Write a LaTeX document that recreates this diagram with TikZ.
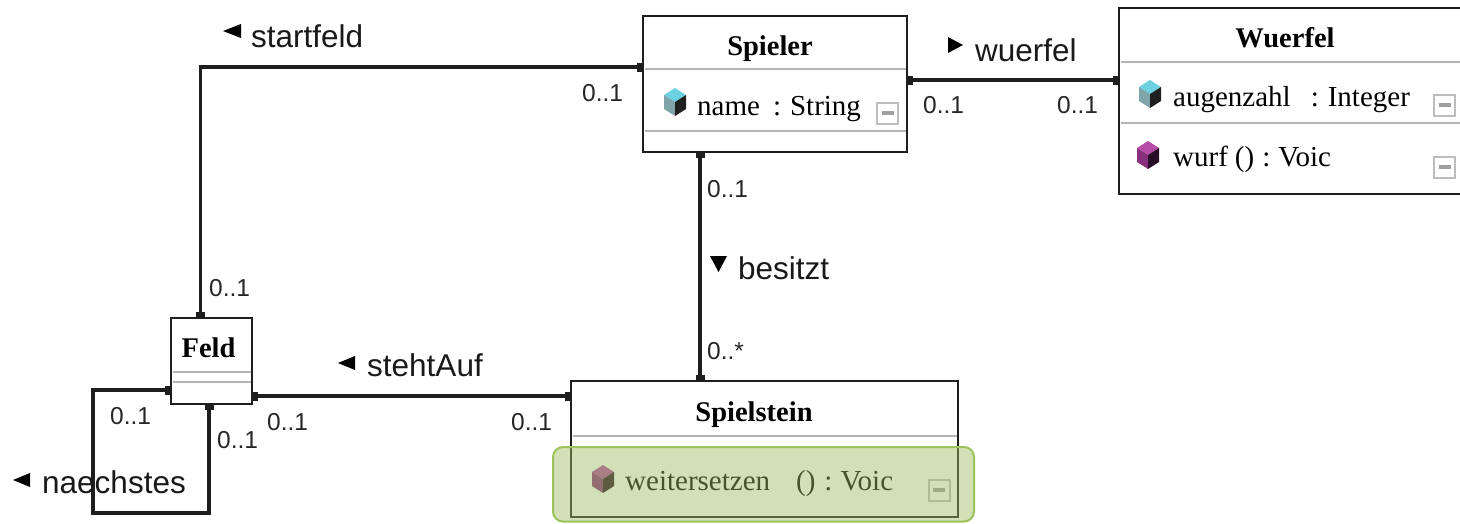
\documentclass[tikz,border=0pt]{standalone}
\usepackage{fontspec}
\setmainfont{Liberation Serif}
\newfontfamily\arialf{Liberation Sans}
\usetikzlibrary{arrows.meta,calc}
\definecolor{linecol}{HTML}{1E1E1E}
\definecolor{sepgray}{HTML}{B4B4B4}
\definecolor{greenfill}{RGB}{157,187,97}
\definecolor{greenborder}{HTML}{9CC25C}
\definecolor{cyantop}{HTML}{6CD2E2}
\definecolor{cyanleft}{HTML}{7FA4AA}
\definecolor{cyanright}{HTML}{202020}
\definecolor{purtop}{HTML}{B64CA6}
\definecolor{purleft}{HTML}{8A2F7E}
\definecolor{purright}{HTML}{2A0E28}
\definecolor{mgrey}{HTML}{BDBDBD}
\definecolor{mbar}{HTML}{A0A0A0}
\tikzset{
  classbox/.style={draw=linecol, line width=2.5pt, fill=white, inner sep=0pt, outer sep=0pt},
  sep/.style={draw=sepgray, line width=2pt},
  assoc/.style={draw=linecol, line width=3.3pt, arrows={Square[length=6pt,width=9pt]-Square[length=6pt,width=9pt]}},
  title/.style={font=\fontsize{28.5}{34}\selectfont\bfseries, anchor=base, inner sep=0pt},
  member/.style={font=\fontsize{29}{34}\selectfont, anchor=base west, inner sep=0pt},
  mult/.style={font=\arialf\fontsize{24.5}{29}\selectfont, anchor=base west, inner sep=0pt, text=black!85},
  role/.style={font=\arialf\fontsize{31.5}{37}\selectfont, anchor=base west, inner sep=0pt, text=black!90},
  pics/gem/.style n args={3}{code={
    \fill[#1] (0,-14) -- (11,-7) -- (0,0) -- (-11,-7) -- cycle;
    \fill[#2] (-11,-7) -- (0,0) -- (0,14) -- (-11,7) -- cycle;
    \fill[#3] (0,0) -- (11,-7) -- (11,7) -- (0,14) -- cycle;
  }},
  pics/minusbox/.style={code={
    \draw[line width=2pt, draw=mgrey, fill=white] (-10.5,-10.5) rectangle (10.5,10.5);
    \fill[mbar] (-6,-2) rectangle (6,2);
  }}
}
\begin{document}
\begin{tikzpicture}[x=1pt,y=-1pt]
\useasboundingbox (0,0) rectangle (1460,523);

% class boxes
\node[classbox, minimum width=264pt, minimum height=136pt] (spieler) at (775,84) {};
\node[classbox, minimum width=351pt, minimum height=186pt] (wuerfel) at (1294.5,101) {};
\node[classbox, minimum width=81pt, minimum height=86pt] (feld) at (211.5,361) {};
\node[classbox, minimum width=387pt, minimum height=136pt] (spielstein) at (764.5,449) {};

% compartment separators
\draw[sep] ($(spieler.north west)+(1.5,53)$) -- ($(spieler.north east)+(-1.5,53)$);
\draw[sep] ($(spieler.north west)+(1.5,115)$) -- ($(spieler.north east)+(-1.5,115)$);
\draw[sep] ($(wuerfel.north west)+(1.5,54)$) -- ($(wuerfel.north east)+(-1.5,54)$);
\draw[sep] ($(wuerfel.north west)+(1.5,115)$) -- ($(wuerfel.north east)+(-1.5,115)$);
\draw[sep] ($(feld.north west)+(1.5,54)$) -- ($(feld.north east)+(-1.5,54)$);
\draw[sep] ($(feld.north west)+(1.5,64)$) -- ($(feld.north east)+(-1.5,64)$);
\draw[sep] ($(spielstein.north west)+(1.5,55)$) -- ($(spielstein.north east)+(-1.5,55)$);

% titles
\node[title] (tspieler) at (770,55) {Spieler};
\node[title] (twuerfel) at (1285,47) {Wuerfel};
\node[title] (tfeld) at (208.5,357) {Feld};
\node[title] (tspielstein) at (754,421) {Spielstein};

% members
\pic at (675,102) {gem={cyantop}{cyanleft}{cyanright}};
\node[member] (aname) at (697,115) {name\hspace{13pt}:\hspace{9pt}String};
\pic at (887.5,113) {minusbox};

\pic at (1150,94) {gem={cyantop}{cyanleft}{cyanright}};
\node[member] (aaugen) at (1173,106) {augenzahl\hspace{20pt}:\hspace{9pt}Integer};
\pic at (1444.5,105) {minusbox};
\pic at (1148,155) {gem={purtop}{purleft}{purright}};
\node[member] (owurf) at (1173,166) {wurf\hspace{7pt}()\hspace{8pt}:\hspace{8pt}Voic};
\pic at (1444.5,167) {minusbox};

\pic at (603,479) {gem={purtop}{purleft}{purright}};
\node[member] (oweiter) at (625,490) {weitersetzen\hspace{26pt}()\hspace{9pt}:\hspace{8pt}Voic};
\pic at (939,490) {minusbox};

% associations
\coordinate (sfA) at ($(spieler.north west)+(0,51)$);
\coordinate (sfB) at ($(feld.north west)+(29.5,0)$);
\draw[assoc] (sfA) -| (sfB);

\coordinate (wuA) at ($(spieler.north east)+(0,64)$);
\draw[assoc] (wuA) -- (wuA -| wuerfel.west);

\coordinate (beA) at ($(spieler.south west)+(57,0)$);
\draw[assoc] (beA) -- (beA |- spielstein.north);

\coordinate (stA) at ($(feld.south east)+(0,-8)$);
\draw[assoc] (stA) -- (stA -| spielstein.west);

\coordinate (naA) at ($(feld.north west)+(0,72)$);
\coordinate (naB) at ($(feld.south west)+(38,0)$);
\coordinate (naC) at (93,513);
\draw[assoc] (naA) -- (naA -| naC) -- (naC) -- (naC -| naB) -- (naB);

% role labels with direction triangles
\fill[black] (223,31) -- (241,24) -- (241,38) -- cycle;
\node[role] (lstart) at (251,47) {startfeld};
\fill[black] (963,45) -- (948,37) -- (948,53) -- cycle;
\node[role] (lwuerfel) at (975,61) {wuerfel};
\fill[black] (718.5,272) -- (710,256) -- (727,256) -- cycle;
\node[role] (lbesitzt) at (738,279) {besitzt};
\fill[black] (338,363) -- (355,356) -- (355,370) -- cycle;
\node[role] (lsteht) at (367,376) {stehtAuf};
\fill[black] (13,480) -- (30,473) -- (30,487) -- cycle;
\node[role] (lnaech) at (42,493) {naechstes};

% multiplicities
\node[mult] (m1) at (582,101) {0..1};
\node[mult] (m2) at (209,296) {0..1};
\node[mult] (m3) at (923,113) {0..1};
\node[mult] (m4) at (1057,113) {0..1};
\node[mult] (m5) at (707,197) {0..1};
\node[mult] (m6) at (707,359) {0..*};
\node[mult] (m7) at (267,430) {0..1};
\node[mult] (m8) at (511,430) {0..1};
\node[mult] (m9) at (110,424) {0..1};
\node[mult] (m10) at (217,448) {0..1};

% highlight overlay
\path[fill=greenfill, fill opacity=0.45, draw=greenborder, draw opacity=1, line width=2pt, rounded corners=10pt]
  (553,447) rectangle (974,521.5);
\end{tikzpicture}
\end{document}
